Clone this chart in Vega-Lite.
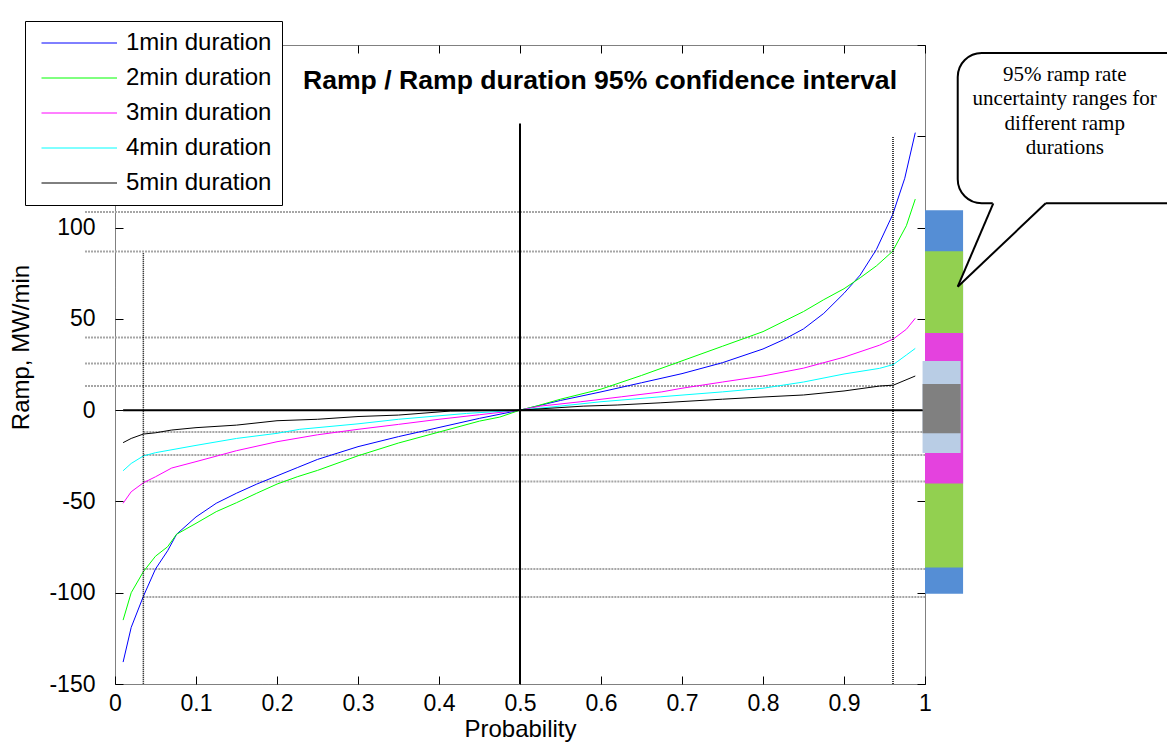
{
  "$schema": "https://vega.github.io/schema/vega-lite/v6.json",
  "width": 810,
  "height": 639,
  "autosize": {"type": "none"},
  "padding": {"left": 115, "top": 45, "right": 242, "bottom": 61},
  "background": "white",
  "config": {
    "view": {"stroke": "black", "strokeDash": [1, 1], "strokeWidth": 1},
    "axis": {
      "labelFont": "Liberation Sans", "titleFont": "Liberation Sans",
      "labelColor": "black", "titleColor": "black", "tickColor": "black",
      "grid": false, "domain": false, "labelFontSize": 23, "titleFontSize": 24,
      "titleFontWeight": "normal", "tickSize": -8, "tickWidth": 1
    }
  },
  "title": {
    "text": "Ramp / Ramp duration 95% confidence interval",
    "font": "Liberation Sans", "fontSize": 26.6, "fontWeight": "bold", "color": "black",
    "anchor": "middle", "frame": "group", "dx": 80, "dy": 51, "offset": -44, "baseline": "alphabetic"
  },
  "datasets": {
    "curves": [
      {"series": "1min duration", "p": 0.01, "ramp": -138}, {"series": "1min duration", "p": 0.02, "ramp": -119}, {"series": "1min duration", "p": 0.035, "ramp": -102}, {"series": "1min duration", "p": 0.05, "ramp": -87}, {"series": "1min duration", "p": 0.065, "ramp": -77}, {"series": "1min duration", "p": 0.076, "ramp": -68}, {"series": "1min duration", "p": 0.1, "ramp": -58.5}, {"series": "1min duration", "p": 0.125, "ramp": -51}, {"series": "1min duration", "p": 0.15, "ramp": -45.5}, {"series": "1min duration", "p": 0.175, "ramp": -40.5}, {"series": "1min duration", "p": 0.2, "ramp": -36}, {"series": "1min duration", "p": 0.225, "ramp": -31.5}, {"series": "1min duration", "p": 0.25, "ramp": -27}, {"series": "1min duration", "p": 0.3, "ramp": -20}, {"series": "1min duration", "p": 0.35, "ramp": -14.5}, {"series": "1min duration", "p": 0.4, "ramp": -9.5}, {"series": "1min duration", "p": 0.45, "ramp": -4.5}, {"series": "1min duration", "p": 0.5, "ramp": 0}, {"series": "1min duration", "p": 0.55, "ramp": 5.3}, {"series": "1min duration", "p": 0.6, "ramp": 10}, {"series": "1min duration", "p": 0.65, "ramp": 15}, {"series": "1min duration", "p": 0.7, "ramp": 20}, {"series": "1min duration", "p": 0.75, "ramp": 26}, {"series": "1min duration", "p": 0.8, "ramp": 33.5}, {"series": "1min duration", "p": 0.825, "ramp": 38.5}, {"series": "1min duration", "p": 0.85, "ramp": 44.5}, {"series": "1min duration", "p": 0.875, "ramp": 53}, {"series": "1min duration", "p": 0.9, "ramp": 64}, {"series": "1min duration", "p": 0.92, "ramp": 74}, {"series": "1min duration", "p": 0.94, "ramp": 88}, {"series": "1min duration", "p": 0.96, "ramp": 107}, {"series": "1min duration", "p": 0.975, "ramp": 127}, {"series": "1min duration", "p": 0.988, "ramp": 152},
      {"series": "2min duration", "p": 0.01, "ramp": -115}, {"series": "2min duration", "p": 0.02, "ramp": -100}, {"series": "2min duration", "p": 0.035, "ramp": -88.5}, {"series": "2min duration", "p": 0.05, "ramp": -80}, {"series": "2min duration", "p": 0.065, "ramp": -74.8}, {"series": "2min duration", "p": 0.076, "ramp": -68}, {"series": "2min duration", "p": 0.1, "ramp": -62}, {"series": "2min duration", "p": 0.125, "ramp": -55.6}, {"series": "2min duration", "p": 0.15, "ramp": -50.7}, {"series": "2min duration", "p": 0.175, "ramp": -45.5}, {"series": "2min duration", "p": 0.2, "ramp": -40.5}, {"series": "2min duration", "p": 0.225, "ramp": -36.5}, {"series": "2min duration", "p": 0.25, "ramp": -33}, {"series": "2min duration", "p": 0.3, "ramp": -25}, {"series": "2min duration", "p": 0.35, "ramp": -18}, {"series": "2min duration", "p": 0.4, "ramp": -12}, {"series": "2min duration", "p": 0.45, "ramp": -6}, {"series": "2min duration", "p": 0.475, "ramp": -3.8}, {"series": "2min duration", "p": 0.5, "ramp": 0}, {"series": "2min duration", "p": 0.52, "ramp": 2.2}, {"series": "2min duration", "p": 0.55, "ramp": 6}, {"series": "2min duration", "p": 0.6, "ramp": 11.5}, {"series": "2min duration", "p": 0.65, "ramp": 19}, {"series": "2min duration", "p": 0.7, "ramp": 27}, {"series": "2min duration", "p": 0.75, "ramp": 35}, {"series": "2min duration", "p": 0.8, "ramp": 43}, {"series": "2min duration", "p": 0.85, "ramp": 54}, {"series": "2min duration", "p": 0.875, "ramp": 60.5}, {"series": "2min duration", "p": 0.9, "ramp": 66.5}, {"series": "2min duration", "p": 0.92, "ramp": 72.5}, {"series": "2min duration", "p": 0.94, "ramp": 79}, {"series": "2min duration", "p": 0.96, "ramp": 87}, {"series": "2min duration", "p": 0.977, "ramp": 101}, {"series": "2min duration", "p": 0.988, "ramp": 115.6},
      {"series": "3min duration", "p": 0.01, "ramp": -51}, {"series": "3min duration", "p": 0.02, "ramp": -44.7}, {"series": "3min duration", "p": 0.035, "ramp": -39.8}, {"series": "3min duration", "p": 0.05, "ramp": -36.5}, {"series": "3min duration", "p": 0.07, "ramp": -31.7}, {"series": "3min duration", "p": 0.1, "ramp": -28.2}, {"series": "3min duration", "p": 0.15, "ramp": -22.2}, {"series": "3min duration", "p": 0.2, "ramp": -17.3}, {"series": "3min duration", "p": 0.25, "ramp": -13.5}, {"series": "3min duration", "p": 0.3, "ramp": -10.5}, {"series": "3min duration", "p": 0.35, "ramp": -7.8}, {"series": "3min duration", "p": 0.4, "ramp": -5}, {"series": "3min duration", "p": 0.45, "ramp": -2.5}, {"series": "3min duration", "p": 0.5, "ramp": 0}, {"series": "3min duration", "p": 0.525, "ramp": 2.2}, {"series": "3min duration", "p": 0.575, "ramp": 4.6}, {"series": "3min duration", "p": 0.625, "ramp": 7.3}, {"series": "3min duration", "p": 0.675, "ramp": 10}, {"series": "3min duration", "p": 0.7, "ramp": 12}, {"series": "3min duration", "p": 0.75, "ramp": 15.4}, {"series": "3min duration", "p": 0.8, "ramp": 18.7}, {"series": "3min duration", "p": 0.85, "ramp": 23}, {"series": "3min duration", "p": 0.9, "ramp": 29}, {"series": "3min duration", "p": 0.944, "ramp": 35.6}, {"series": "3min duration", "p": 0.961, "ramp": 39}, {"series": "3min duration", "p": 0.977, "ramp": 44.3}, {"series": "3min duration", "p": 0.988, "ramp": 50.3},
      {"series": "4min duration", "p": 0.01, "ramp": -33.2}, {"series": "4min duration", "p": 0.02, "ramp": -29.2}, {"series": "4min duration", "p": 0.035, "ramp": -25.1}, {"series": "4min duration", "p": 0.05, "ramp": -23.3}, {"series": "4min duration", "p": 0.1, "ramp": -19.3}, {"series": "4min duration", "p": 0.15, "ramp": -15.5}, {"series": "4min duration", "p": 0.2, "ramp": -12.7}, {"series": "4min duration", "p": 0.228, "ramp": -10.5}, {"series": "4min duration", "p": 0.3, "ramp": -7.5}, {"series": "4min duration", "p": 0.35, "ramp": -5}, {"series": "4min duration", "p": 0.434, "ramp": -1.8}, {"series": "4min duration", "p": 0.5, "ramp": 0}, {"series": "4min duration", "p": 0.549, "ramp": 2.2}, {"series": "4min duration", "p": 0.6, "ramp": 4.6}, {"series": "4min duration", "p": 0.673, "ramp": 7.3}, {"series": "4min duration", "p": 0.75, "ramp": 10}, {"series": "4min duration", "p": 0.8, "ramp": 12}, {"series": "4min duration", "p": 0.85, "ramp": 15.4}, {"series": "4min duration", "p": 0.9, "ramp": 19.8}, {"series": "4min duration", "p": 0.944, "ramp": 22.9}, {"series": "4min duration", "p": 0.961, "ramp": 25}, {"series": "4min duration", "p": 0.977, "ramp": 30.2}, {"series": "4min duration", "p": 0.988, "ramp": 33.8},
      {"series": "5min duration", "p": 0.01, "ramp": -17.8}, {"series": "5min duration", "p": 0.02, "ramp": -15.5}, {"series": "5min duration", "p": 0.035, "ramp": -13.1}, {"series": "5min duration", "p": 0.05, "ramp": -12.4}, {"series": "5min duration", "p": 0.07, "ramp": -10.9}, {"series": "5min duration", "p": 0.1, "ramp": -9.6}, {"series": "5min duration", "p": 0.15, "ramp": -8.2}, {"series": "5min duration", "p": 0.2, "ramp": -5.8}, {"series": "5min duration", "p": 0.25, "ramp": -5}, {"series": "5min duration", "p": 0.3, "ramp": -3.5}, {"series": "5min duration", "p": 0.35, "ramp": -2.7}, {"series": "5min duration", "p": 0.414, "ramp": -0.5}, {"series": "5min duration", "p": 0.5, "ramp": 0}, {"series": "5min duration", "p": 0.578, "ramp": 2.2}, {"series": "5min duration", "p": 0.62, "ramp": 2.8}, {"series": "5min duration", "p": 0.673, "ramp": 4}, {"series": "5min duration", "p": 0.75, "ramp": 6}, {"series": "5min duration", "p": 0.8, "ramp": 7.2}, {"series": "5min duration", "p": 0.85, "ramp": 8.3}, {"series": "5min duration", "p": 0.9, "ramp": 10.5}, {"series": "5min duration", "p": 0.944, "ramp": 13.2}, {"series": "5min duration", "p": 0.961, "ramp": 13.7}, {"series": "5min duration", "p": 0.988, "ramp": 18.7}
    ],
    "bounds": [
      {"dur": "1min", "lo": -102.4, "hi": 108.5},
      {"dur": "2min", "lo": -87.0, "hi": 86.9},
      {"dur": "3min", "lo": -39.1, "hi": 39.8},
      {"dur": "4min", "lo": -24.6, "hi": 25.5},
      {"dur": "5min", "lo": -12.0, "hi": 13.2}
    ],
    "ranges": [
      {"dur": "1min", "lo": -100.6, "hi": 109.5},
      {"dur": "2min", "lo": -86.2, "hi": 87.0},
      {"dur": "3min", "lo": -40.2, "hi": 42.3},
      {"dur": "4min", "lo": -23.5, "hi": 26.9},
      {"dur": "5min", "lo": -12.6, "hi": 14.3}
    ],
    "vlines": [
      {"kind": "median", "p": 0.5, "top": 157},
      {"kind": "quantile", "p": 0.035, "top": 86},
      {"kind": "quantile", "p": 0.9605, "top": 149.6}
    ],
    "callout": [
      {"text": "95% ramp rate\nuncertainty ranges for\ndifferent ramp\ndurations"}
    ],
    "tail": [
      {"x": 1.0404, "top": 67.6, "bot": 67.6},
      {"x": 1.0843, "top": 114.4, "bot": 86.1},
      {"x": 1.149, "top": 114.4, "bot": 113.3}
    ],
    "tailEdges": [
      {"edge": "a", "x": 1.0404, "y": 67.6},
      {"edge": "a", "x": 1.0843, "y": 113.3},
      {"edge": "b", "x": 1.0404, "y": 67.6},
      {"edge": "b", "x": 1.149, "y": 113.3}
    ]
  },
  "layer": [
    {
      "data": {"name": "bounds"},
      "mark": {"type": "rule", "color": "#a6a6a6", "strokeWidth": 2, "strokeDash": [2, 1]},
      "encoding": {
        "x": {"datum": -0.037, "type": "quantitative", "scale": {"domain": [0, 1], "nice": false, "zero": false}, "axis": null},
        "x2": {"datum": 0.962},
        "y": {"field": "hi", "type": "quantitative", "scale": {"domain": [-150, 200], "nice": false, "zero": false}, "axis": null}
      }
    },
    {
      "data": {"name": "bounds"},
      "mark": {"type": "rule", "color": "#a6a6a6", "strokeWidth": 2, "strokeDash": [2, 1]},
      "encoding": {
        "x": {"datum": 0.035, "type": "quantitative", "scale": {"domain": [0, 1], "nice": false, "zero": false}, "axis": null},
        "x2": {"datum": 1.0},
        "y": {"field": "lo", "type": "quantitative", "scale": {"domain": [-150, 200], "nice": false, "zero": false}, "axis": null}
      }
    },
    {
      "data": {"name": "ranges"},
      "transform": [{"filter": "datum.dur == '1min' || datum.dur == '2min' || datum.dur == '3min'"}],
      "mark": {"type": "rect"},
      "encoding": {
        "x": {"datum": 1.0, "type": "quantitative", "scale": {"domain": [0, 1], "nice": false, "zero": false}, "axis": null},
        "x2": {"datum": 1.047},
        "y": {"field": "lo", "type": "quantitative", "scale": {"domain": [-150, 200], "nice": false, "zero": false}, "axis": null},
        "y2": {"field": "hi"},
        "fill": {"field": "dur", "type": "nominal", "legend": null, "scale": {"domain": ["1min", "2min", "3min", "4min", "5min"], "range": ["#558ED5", "#92D050", "#E442DE", "#B9CDE5", "#808080"]}}
      }
    },
    {
      "data": {"name": "ranges"},
      "transform": [{"filter": "datum.dur == '4min' || datum.dur == '5min'"}],
      "mark": {"type": "rect"},
      "encoding": {
        "x": {"datum": 0.997, "type": "quantitative", "scale": {"domain": [0, 1], "nice": false, "zero": false}, "axis": null},
        "x2": {"datum": 1.044},
        "y": {"field": "lo", "type": "quantitative", "scale": {"domain": [-150, 200], "nice": false, "zero": false}, "axis": null},
        "y2": {"field": "hi"},
        "fill": {"field": "dur", "type": "nominal", "legend": null, "scale": {"domain": ["1min", "2min", "3min", "4min", "5min"], "range": ["#558ED5", "#92D050", "#E442DE", "#B9CDE5", "#808080"]}}
      }
    },
    {
      "data": {"name": "curves"},
      "mark": {"type": "line", "strokeWidth": 1},
      "encoding": {
        "x": {"field": "p", "type": "quantitative", "title": "Probability",
              "scale": {"domain": [0, 1], "nice": false, "zero": false},
              "axis": {"orient": "bottom", "values": [0, 0.1, 0.2, 0.3, 0.4, 0.5, 0.6, 0.7, 0.8, 0.9, 1], "labelExpr": "toString(datum.value)", "labelPadding": 16, "titlePadding": 2, "labelFlush": false}},
        "y": {"field": "ramp", "type": "quantitative", "title": "Ramp, MW/min",
              "scale": {"domain": [-150, 200], "nice": false, "zero": false},
              "axis": {"orient": "left", "values": [-150, -100, -50, 0, 50, 100, 150, 200], "labelExpr": "toString(datum.value)", "labelPadding": 28, "titleX": -82, "titleY": 302, "labelFlush": false}},
        "color": {"field": "series", "type": "nominal",
                  "scale": {"domain": ["1min duration", "2min duration", "3min duration", "4min duration", "5min duration"], "range": ["#0000ff", "#00ff00", "#ff00ff", "#00ffff", "#000000"]},
                  "legend": {"orient": "none", "legendX": -90, "legendY": -24, "title": null, "padding": 10,
                             "strokeColor": "black", "fillColor": "white",
                             "labelFont": "Liberation Sans", "labelFontSize": 24, "labelColor": "black",
                             "symbolType": "M-0.55,0H7", "symbolSize": 400, "symbolStrokeWidth": 1,
                             "labelOffset": 67, "rowPadding": 11}}
      }
    },
    {
      "data": {"name": "vlines"},
      "transform": [{"filter": "datum.kind == 'quantile'"}],
      "mark": {"type": "rule", "color": "black", "strokeWidth": 1.5, "strokeDash": [1, 1]},
      "encoding": {
        "x": {"field": "p", "type": "quantitative", "scale": {"domain": [0, 1], "nice": false, "zero": false}, "axis": null},
        "y": {"field": "top", "type": "quantitative", "scale": {"domain": [-150, 200], "nice": false, "zero": false}, "axis": null},
        "y2": {"datum": -150}
      }
    },
    {
      "data": {"name": "vlines"},
      "transform": [{"filter": "datum.kind == 'median'"}],
      "mark": {"type": "rule", "color": "black", "strokeWidth": 2},
      "encoding": {
        "x": {"field": "p", "type": "quantitative", "scale": {"domain": [0, 1], "nice": false, "zero": false},
              "axis": {"orient": "top", "labels": false, "title": null, "values": [0, 0.1, 0.2, 0.3, 0.4, 0.5, 0.6, 0.7, 0.8, 0.9, 1]}},
        "y": {"field": "top", "type": "quantitative", "scale": {"domain": [-150, 200], "nice": false, "zero": false},
              "axis": {"orient": "right", "labels": false, "title": null, "values": [-150, -100, -50, 0, 50, 100, 150, 200]}},
        "y2": {"datum": -150}
      }
    },
    {
      "data": {"name": "callout"},
      "mark": {"type": "rule", "color": "black", "strokeWidth": 2},
      "encoding": {
        "x": {"datum": 0.01, "type": "quantitative", "scale": {"domain": [0, 1], "nice": false, "zero": false}, "axis": null},
        "x2": {"datum": 0.997},
        "y": {"datum": 0, "type": "quantitative", "scale": {"domain": [-150, 200], "nice": false, "zero": false}, "axis": null}
      }
    },
    {
      "data": {"name": "callout"},
      "mark": {"type": "rect", "fill": "white", "stroke": "black", "strokeWidth": 2, "cornerRadius": 24},
      "encoding": {
        "x": {"datum": 1.0404, "type": "quantitative", "scale": {"domain": [0, 1], "nice": false, "zero": false}, "axis": null},
        "x2": {"datum": 1.33},
        "y": {"datum": 113.3, "type": "quantitative", "scale": {"domain": [-150, 200], "nice": false, "zero": false}, "axis": null},
        "y2": {"datum": 195.6}
      }
    },
    {
      "data": {"name": "tail"},
      "mark": {"type": "area", "color": "white", "opacity": 1},
      "encoding": {
        "x": {"field": "x", "type": "quantitative", "scale": {"domain": [0, 1], "nice": false, "zero": false}, "axis": null},
        "y": {"field": "top", "type": "quantitative", "scale": {"domain": [-150, 200], "nice": false, "zero": false}, "axis": null},
        "y2": {"field": "bot"}
      }
    },
    {
      "data": {"name": "tailEdges"},
      "mark": {"type": "line", "color": "black", "strokeWidth": 2},
      "encoding": {
        "x": {"field": "x", "type": "quantitative", "scale": {"domain": [0, 1], "nice": false, "zero": false}, "axis": null},
        "y": {"field": "y", "type": "quantitative", "scale": {"domain": [-150, 200], "nice": false, "zero": false}, "axis": null},
        "detail": {"field": "edge", "type": "nominal"}
      }
    },
    {
      "data": {"name": "callout"},
      "mark": {"type": "text", "font": "Liberation Serif", "fontSize": 21, "lineHeight": 24.5, "lineBreak": "\n", "align": "center", "baseline": "top", "color": "black"},
      "encoding": {
        "x": {"datum": 1.1725, "type": "quantitative", "scale": {"domain": [0, 1], "nice": false, "zero": false}, "axis": null},
        "y": {"datum": 189.8, "type": "quantitative", "scale": {"domain": [-150, 200], "nice": false, "zero": false}, "axis": null},
        "text": {"field": "text", "type": "nominal"}
      }
    }
  ],
  "resolve": {"axis": {"x": "independent", "y": "independent"}}
}
